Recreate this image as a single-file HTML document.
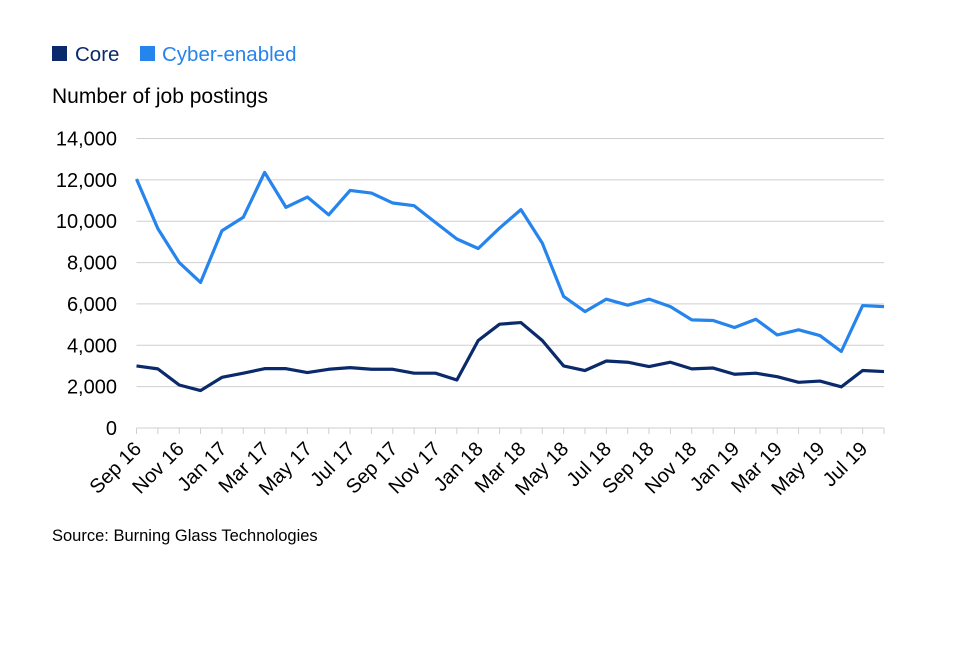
<!DOCTYPE html>
<html><head><meta charset="utf-8"><style>
body{margin:0;background:#fff;}
svg text{font-family:"Liberation Sans",Arial,sans-serif;}
</style></head><body>
<svg width="960" height="640" id="c">
<g>
<rect x="52" y="46" width="15" height="15" fill="#0b2a6b"/>
<text x="75" y="61" font-size="20.5" fill="#0b2a6b">Core</text>
<rect x="140" y="46" width="15" height="15" fill="#2684ed"/>
<text x="162" y="61" font-size="20.5" fill="#2684ed">Cyber-enabled</text>
</g>
<text x="52" y="103" font-size="21" fill="#000">Number of job postings</text>
<text x="52" y="541" font-size="16.5" fill="#000">Source: Burning Glass Technologies</text>
<g id="grid"></g><g id="lines"></g><g id="xl"></g>
</svg>
<script>
const months=["Sep 16","Oct 16","Nov 16","Dec 16","Jan 17","Feb 17","Mar 17","Apr 17","May 17","Jun 17","Jul 17","Aug 17","Sep 17","Oct 17","Nov 17","Dec 17","Jan 18","Feb 18","Mar 18","Apr 18","May 18","Jun 18","Jul 18","Aug 18","Sep 18","Oct 18","Nov 18","Dec 18","Jan 19","Feb 19","Mar 19","Apr 19","May 19","Jun 19","Jul 19","Aug 19"];
const cyber=[12040,9640,8000,7040,9540,10190,12360,10670,11170,10310,11490,11360,10880,10750,9940,9140,8680,9670,10560,8940,6360,5630,6230,5940,6230,5870,5230,5200,4860,5260,4500,4750,4470,3700,5920,5870];
const core=[3000,2860,2080,1810,2450,2650,2870,2870,2680,2840,2920,2840,2840,2650,2650,2320,4230,5020,5100,4230,3000,2780,3240,3180,2970,3180,2860,2900,2600,2650,2480,2210,2270,1990,2780,2730];
const yTicks=[0,2000,4000,6000,8000,10000,12000,14000];
const yLabels=["0","2,000","4,000","6,000","8,000","10,000","12,000","14,000"];
const NS="http://www.w3.org/2000/svg";
const x0=136.5,x1=884,y0=428,yTop=138.5,yMax=14000;
const X=i=>x0+(x1-x0)*i/(months.length-1);
const Y=v=>y0-(y0-yTop)*v/yMax;
function mk(t,a,p){const e=document.createElementNS(NS,t);for(const k in a)e.setAttribute(k,a[k]);p.appendChild(e);return e;}
const g=document.getElementById('grid');
yTicks.forEach((v,i)=>{
 if(v>0){const l=mk('line',{x1:x0,x2:x1,y1:Y(v),y2:Y(v),stroke:'#cfcfcf','stroke-width':1},g);
 
 }
 const t=mk('text',{x:117,y:Y(v)+7,'text-anchor':'end','font-size':20,fill:'#000'},g);
 t.textContent=yLabels[i];
 
 
});
const ax=mk('line',{x1:x0,x2:x1,y1:y0,y2:y0,stroke:'#cfcfcf','stroke-width':1},g);


const xl=document.getElementById('xl');
months.forEach((m,i)=>{
 const tk=mk('line',{x1:X(i),x2:X(i),y1:y0,y2:y0+6,stroke:'#cfcfcf'},g);
 
 
 if(i%2===0){
  const t=mk('text',{x:X(i)+6,y:y0+22,'text-anchor':'end','font-size':20,fill:'#000',transform:`rotate(-45 ${X(i)+6} ${y0+22})`},xl);
  t.textContent=m;
  
  
 }
});
const L=document.getElementById('lines');
[[cyber,'#2684ed','cyber-enabled-line'],[core,'#0b2a6b','core-line']].forEach(([d,c,n])=>{
 const p=mk('polyline',{points:d.map((v,i)=>X(i)+','+Y(v)).join(' '),fill:'none',stroke:c,'stroke-width':3.2,'stroke-linejoin':'round'},L);
 
 
});
</script>
</body></html>
